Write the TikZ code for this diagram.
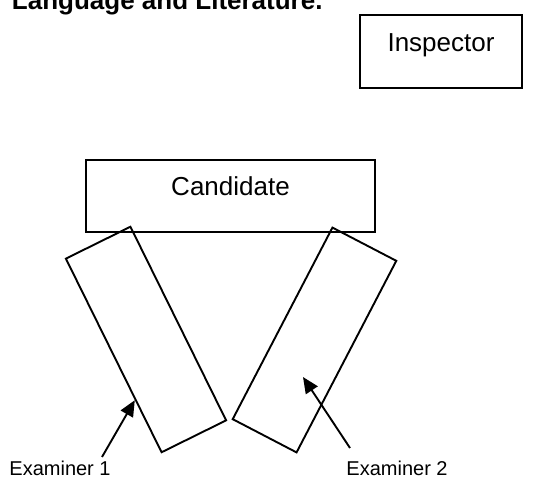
\documentclass[tikz,border=0pt]{standalone}
\usepackage{fontspec}
\setmainfont{Liberation Sans}
\usetikzlibrary{arrows.meta,positioning,calc}

\begin{document}
\begin{tikzpicture}[
    x=1pt, y=-1pt,
    line width=1.9pt,
    >={Triangle[length=16pt,width=14pt]},
    block/.style={
        rectangle, draw=black, inner sep=0pt,
        font=\fontsize{26}{30}\selectfont,
        text height=20pt, text depth=20pt   % baseline on the box centre
    },
    desk/.style={
        rectangle, draw=black, inner sep=0pt,
        minimum width=72pt, minimum height=216pt
    },
    caption/.style={anchor=base west, inner sep=0pt, font=\fontsize{20}{24}\selectfont},
    arrow/.style={->, line width=1.9pt},
]
  \useasboundingbox (0,0) rectangle (542,478);
  \clip (0,0) rectangle (542,478);

  %––– Heading (cut off at the top) ––––––––––––––––––––––––––
  \node (title) [anchor=base west, inner sep=0pt,
        font=\fontsize{26}{30}\selectfont\bfseries] at (11,10) {Language and Literature.};

  %––– Boxes ––––––––––––––––––––––––––––––––––––––––––––––––
  \node (inspector) [block, minimum width=162pt, minimum height=73pt] at (441,51.5) {Inspector};
  \node (candidate) [block, minimum width=289pt, minimum height=72pt] at (230.5,196) {Candidate};

  %––– Examiner desks –––––––––––––––––––––––––––––––––––––––
  \node (desk1) [desk, rotate=26.3]  at (146,339.5) {};
  \node (desk2) [desk, rotate=-27.5] at (314.5,340) {};

  %––– Labels –––––––––––––––––––––––––––––––––––––––––––––––
  \node (exam1) [caption] at (8.5,475.5) {Examiner 1};
  \node (exam2) [caption] at (345.5,475.5) {Examiner 2};

  %––– Arrows –––––––––––––––––––––––––––––––––––––––––––––––
  \coordinate (tail1) at (102,457);
  \coordinate (tip1) at ($(desk1.north west)!0.727!(desk1.south west)$);
  \coordinate (tail2) at (350,448);
  \coordinate (tip2) at (303,377);
  \draw[arrow] (tail1) -- (tip1);
  \draw[arrow] (tail2) -- (tip2);
\end{tikzpicture}
\end{document}
